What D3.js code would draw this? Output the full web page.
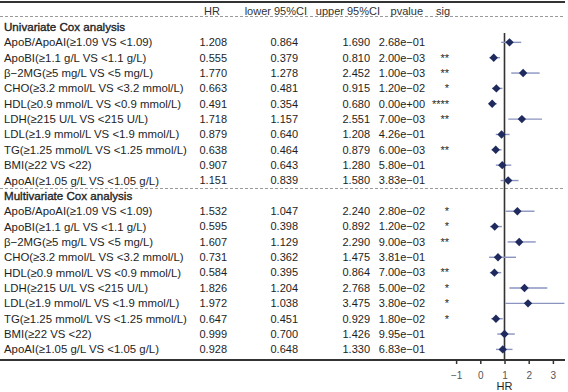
<!DOCTYPE html>
<html><head><meta charset="utf-8">
<script src="https://cdn.jsdelivr.net/npm/d3@7"></script>
<style>
html,body{margin:0;padding:0;background:#fff;}
svg{display:block;font-family:"Liberation Sans",Arial,sans-serif;}
</style></head>
<body><svg id="c" width="568" height="392"></svg>
<script>
const labels = ["ApoB/ApoAI(≥1.09 VS <1.09)","ApoBI(≥1.1 g/L VS <1.1 g/L)","β−2MG(≥5 mg/L VS <5 mg/L)","CHO(≥3.2 mmol/L VS <3.2 mmol/L)","HDL(≥0.9 mmol/L VS <0.9 mmol/L)","LDH(≥215 U/L VS <215 U/L)","LDL(≥1.9 mmol/L VS <1.9 mmol/L)","TG(≥1.25 mmol/L VS <1.25 mmol/L)","BMI(≥22 VS <22)","ApoAI(≥1.05 g/L VS <1.05 g/L)"];
const groups = ["Univariate Cox analysis","Multivariate Cox analysis"];
const uniHR    = [1.208,0.555,1.770,0.663,0.491,1.718,0.879,0.638,0.907,1.151];
const uniLower = [0.864,0.379,1.278,0.481,0.354,1.157,0.640,0.464,0.643,0.839];
const uniUpper = [1.690,0.810,2.452,0.915,0.680,2.551,1.208,0.879,1.280,1.580];
const uniP     = ["2.68e−01","2.00e−03","1.00e−03","1.20e−02","0.00e+00","7.00e−03","4.26e−01","6.00e−03","5.80e−01","3.83e−01"];
const uniSig   = ["","**","**","*","****","**","","**","",""];
const mulHR    = [1.532,0.595,1.607,0.731,0.584,1.826,1.972,0.647,0.999,0.928];
const mulLower = [1.047,0.398,1.129,0.362,0.395,1.204,1.038,0.451,0.700,0.648];
const mulUpper = [2.240,0.892,2.290,1.475,0.864,2.768,3.475,0.929,1.426,1.330];
const mulP     = ["2.80e−02","1.20e−02","9.00e−03","3.81e−01","7.00e−03","5.00e−02","3.80e−02","1.80e−02","9.95e−01","6.83e−01"];
const mulSig   = ["*","*","**","","**","*","*","*","",""];
const headers  = ["HR","lower 95%CI","upper 95%CI","pvalue","sig"];
const xTicks   = [-1,0,1,2,3];

// build rows
const rows = [];
[[uniHR,uniLower,uniUpper,uniP,uniSig],[mulHR,mulLower,mulUpper,mulP,mulSig]].forEach((g,gi)=>{
  rows.push({type:"group",label:groups[gi]});
  labels.forEach((l,i)=>rows.push({type:"row",label:l,hr:g[0][i],lo:g[1][i],hi:g[2][i],p:g[3][i],sig:g[4][i]}));
});

const svg = d3.select("#c");
const txt = "#1e1e1e";
const y = d3.scalePoint().domain(d3.range(rows.length)).range([27, 349.4]);
const x = d3.scaleLinear().domain([-1,3]).range([456.1, 552.9]);

// top line
svg.append("line").attr("x1",0).attr("x2",565).attr("y1",2).attr("y2",2).attr("stroke","#333").attr("stroke-width",2);
// header dashed
svg.append("line").attr("x1",0).attr("x2",565).attr("y1",16.5).attr("y2",16.5).attr("stroke","#9a9a9a").attr("stroke-width",1).attr("stroke-dasharray","3,2");
// mid dashed
svg.append("line").attr("x1",0).attr("x2",565).attr("y1",188.5).attr("y2",188.5).attr("stroke","#9a9a9a").attr("stroke-width",1).attr("stroke-dasharray","3,2");

// headers
const hx = [220, 307, 380, 423, 450];
svg.selectAll("text.h").data(headers).join("text").attr("class","h")
  .attr("x",(d,i)=>hx[i]).attr("y",11).attr("dy","0.35em").attr("text-anchor","end")
  .attr("font-size",11).attr("fill","#333").text(d=>d);

// labels
const g = svg.append("g");
rows.forEach((r,i)=>{
  const yy = y(i);
  const t = g.append("text").attr("x",4).attr("y",yy).attr("dy","0.35em").attr("font-size",11.4)
   .attr("fill",txt).text(r.label);
  if(r.type==="group"){ t.attr("font-size",11.6).attr("stroke",txt).attr("stroke-width",0.35); return; }
  const cols = [[227,r.hr.toFixed(3)],[298,r.lo.toFixed(3)],[370,r.hi.toFixed(3)],[425,r.p],[449,r.sig]];
  cols.forEach(([cx,tt])=>{
    g.append("text").attr("x",cx).attr("y",yy).attr("dy","0.35em").attr("text-anchor","end")
      .attr("font-size",11).attr("fill",txt).text(tt);
  });
});

// reference line at HR=1
svg.append("line").attr("x1",x(1)).attr("x2",x(1)).attr("y1",33).attr("y2",360).attr("stroke","#333").attr("stroke-width",1.6);

// CI lines
const data = rows.map((r,i)=>({...r,i})).filter(r=>r.type==="row");
svg.selectAll("line.ci").data(data).join("line").attr("class","ci")
  .attr("x1",d=>x(d.lo)).attr("x2",d=>x(d.hi)).attr("y1",d=>y(d.i)).attr("y2",d=>y(d.i))
  .attr("stroke","#8b93bf").attr("stroke-width",1.4);
// diamonds
const s = 4.2;
svg.selectAll("path.pt").data(data).join("path").attr("class","pt")
  .attr("d",d=>{const cx=x(d.hr), cy=y(d.i); return `M${cx},${cy-s}L${cx+s},${cy}L${cx},${cy+s}L${cx-s},${cy}Z`;})
  .attr("fill","#1f2b5e");

// bottom axis
svg.append("line").attr("x1",0).attr("x2",565).attr("y1",360).attr("y2",360).attr("stroke","#333").attr("stroke-width",2);
const axis = d3.axisBottom(x).tickValues(xTicks).tickSize(4).tickFormat(d=>d<0?"−"+Math.abs(d):d);
const ax = svg.append("g").attr("transform","translate(0,360)").call(axis);
ax.select(".domain").remove();
ax.selectAll(".tick line").attr("stroke","#333").attr("stroke-width",1.5);
ax.selectAll(".tick text").attr("font-size",10).attr("fill","#555").attr("font-family","Liberation Sans, Arial, sans-serif").attr("y",12);
svg.append("text").attr("x",x(1)).attr("y",386.5).attr("dy","0.35em").attr("text-anchor","middle").attr("font-size",11).attr("fill",txt).text("HR");
</script></body></html>
